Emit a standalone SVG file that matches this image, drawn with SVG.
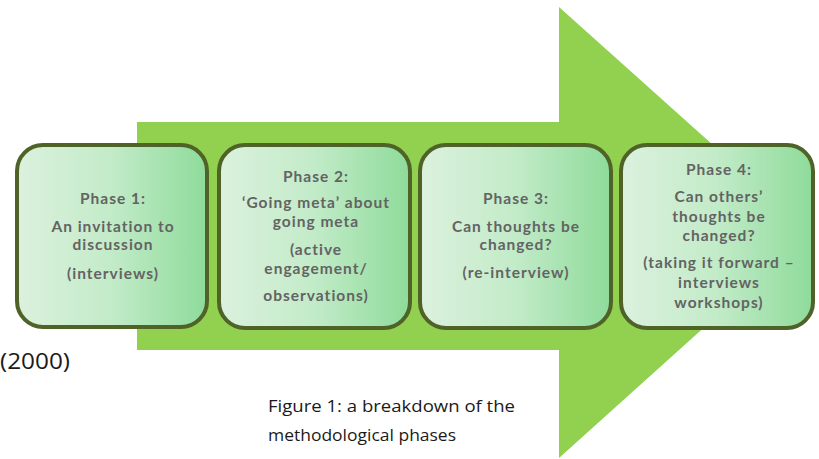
<svg xmlns="http://www.w3.org/2000/svg" width="819" height="459" viewBox="0 0 819 459">
<defs>
<linearGradient id="g" x1="0" y1="0" x2="1" y2="0">
<stop offset="0" stop-color="#dcf1de"/>
<stop offset="0.5" stop-color="#c2ebc8"/>
<stop offset="1" stop-color="#8edb9a"/>
</linearGradient>
<style>
.box{fill:url(#g);stroke:#4f6228;stroke-width:4}
.t{font-family:Lato,"Open Sans",sans-serif;font-weight:bold;font-size:15.5px;letter-spacing:1px;fill:#636363;text-anchor:middle}
.cap{font-family:"Open Sans","Liberation Sans",sans-serif;fill:#1a1a1a}
</style>
</defs>
<g id="arrow">
<polygon points="137,122 559,122 559,7 810,232 559,458 559,350 137,350" fill="#92d050"/>
</g>
<g id="connectors"/>
<g id="phase1">
<rect class="box" x="17" y="145" width="190" height="182" rx="26"/>
<text class="t" x="113" y="204">Phase 1:</text>
<text class="t" x="113" y="232">An invitation to</text>
<text class="t" x="113" y="250">discussion</text>
<text class="t" x="113" y="279">(interviews)</text>
</g>
<g id="phase2">
<rect class="box" x="219" y="145" width="191" height="183" rx="26"/>
<text class="t" x="316" y="182">Phase 2:</text>
<text class="t" x="316" y="208">‘Going meta’ about</text>
<text class="t" x="316" y="227">going meta</text>
<text class="t" x="316" y="255">(active</text>
<text class="t" x="316" y="274">engagement/</text>
<text class="t" x="316" y="301">observations)</text>
</g>
<g id="phase3">
<rect class="box" x="420" y="145" width="191" height="183" rx="26"/>
<text class="t" x="516" y="204">Phase 3:</text>
<text class="t" x="516" y="232">Can thoughts be</text>
<text class="t" x="516" y="250">changed?</text>
<text class="t" x="516" y="278">(re-interview)</text>
</g>
<g id="phase4">
<rect class="box" x="621" y="145" width="192" height="183" rx="26"/>
<text class="t" x="719" y="175">Phase 4:</text>
<text class="t" x="719" y="202">Can others’</text>
<text class="t" x="719" y="222">thoughts be</text>
<text class="t" x="719" y="241">changed?</text>
<text class="t" x="719" y="268">(taking it forward –</text>
<text class="t" x="719" y="288">interviews</text>
<text class="t" x="719" y="308">workshops)</text>
</g>
<text class="cap" x="0" y="369" font-size="22" textLength="70" lengthAdjust="spacingAndGlyphs">(2000)</text>
<text class="cap" x="268" y="412" font-size="17" textLength="247" lengthAdjust="spacingAndGlyphs">Figure 1: a breakdown of the</text>
<text class="cap" x="268" y="441" font-size="17" textLength="188" lengthAdjust="spacingAndGlyphs">methodological phases</text>
</svg>
